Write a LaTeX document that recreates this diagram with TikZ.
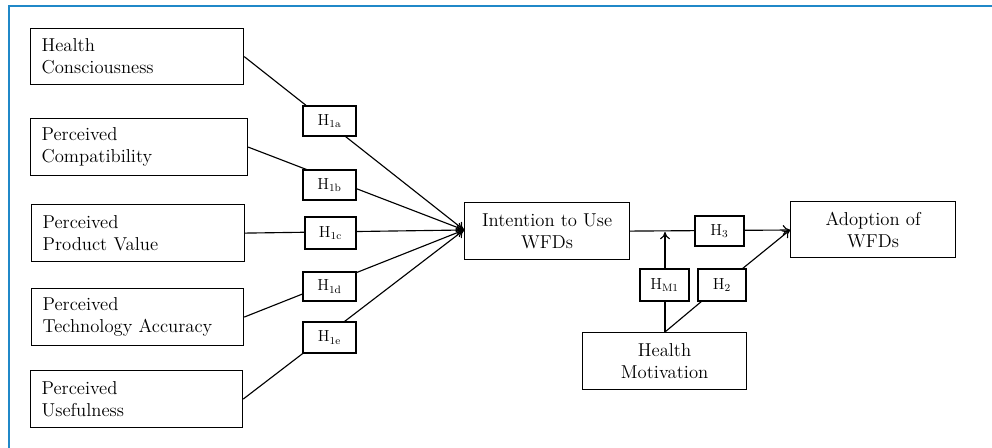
\documentclass[tikz,border=0pt]{standalone}
\usetikzlibrary{arrows.meta}
\definecolor{frameblue}{RGB}{32,136,200}
\tikzset{
  var/.style={draw, line width=0.9pt, fill=white, align=left, inner sep=0pt, font=\fontsize{14}{16.5}\selectfont},
  cvar/.style={draw, line width=0.9pt, fill=white, align=center, inner sep=0pt, font=\fontsize{14}{16.5}\selectfont},
  hbox/.style={draw, line width=0.9pt, fill=white, inner sep=0pt, font=\fontsize{12}{14}\selectfont},
  conn/.style={line width=0.85pt},
  arr/.style={line width=0.85pt, -{To[length=5.5pt,width=7.5pt]}}
}
\begin{document}
\begin{tikzpicture}[x=0.75pt,y=-0.75pt]
\useasboundingbox (0,0) rectangle (992,448);
\draw[frameblue, line width=2pt] (9,448) -- (9,6) -- (992,6);
% source boxes
\node[var, minimum width=213*0.75pt, minimum height=56*0.75pt, anchor=north west, text width=191*0.75pt] (hc) at (30,28) {Health\\Consciousness};
\node[var, minimum width=217*0.75pt, minimum height=57*0.75pt, anchor=north west, text width=195*0.75pt] (pc) at (30,118) {Perceived\\Compatibility};
\node[var, minimum width=213*0.75pt, minimum height=57*0.75pt, anchor=north west, text width=191*0.75pt] (pv) at (31,204) {Perceived\\Product Value};
\node[var, minimum width=212*0.75pt, minimum height=57*0.75pt, anchor=north west, text width=190*0.75pt] (pt) at (31,288) {Perceived\\Technology Accuracy};
\node[var, minimum width=212*0.75pt, minimum height=57*0.75pt, anchor=north west, text width=190*0.75pt] (pu) at (30,370) {Perceived\\Usefulness};
% targets
\node[cvar, minimum width=165*0.75pt, minimum height=57*0.75pt, anchor=north west] (iu) at (464,202) {Intention to Use\\WFDs};
\node[cvar, minimum width=165*0.75pt, minimum height=56*0.75pt, anchor=north west] (ad) at (790,201) {Adoption of\\WFDs};
\node[cvar, minimum width=164*0.75pt, minimum height=57*0.75pt, anchor=north west] (hm) at (582,332) {Health\\Motivation};
\coordinate (tip) at (464,230);
\coordinate (adin) at (790,230);
\coordinate (hmtop) at (665,332);
\coordinate (mtip) at (665,232);
\coordinate (h2bl) at (702,301);
\coordinate (h2tr) at (742,269);
% connectors
\draw[arr] (hc.east) -- (tip);
\draw[arr] (pc.east) -- (tip);
\draw[arr] (pv.east) -- (tip);
\draw[arr] (pt.east) -- (tip);
\draw[arr] (pu.east) -- (tip);
\draw[arr] (iu.east) -- (adin);
\draw[arr] (hmtop) -- (mtip);
\draw[conn] (hmtop) -- (h2bl);
\draw[arr] (h2tr) -- (adin);
% hypothesis boxes
\node[hbox, minimum width=53*0.75pt, minimum height=30*0.75pt] (h1a) at (329.5,121) {H\textsubscript{1a}};
\node[hbox, minimum width=53*0.75pt, minimum height=30*0.75pt] (h1b) at (329.5,185) {H\textsubscript{1b}};
\node[hbox, minimum width=51*0.75pt, minimum height=32*0.75pt] (h1c) at (330.5,233) {H\textsubscript{1c}};
\node[hbox, minimum width=53*0.75pt, minimum height=29*0.75pt] (h1d) at (329.5,286.5) {H\textsubscript{1d}};
\node[hbox, minimum width=53*0.75pt, minimum height=31*0.75pt] (h1e) at (329.5,337.5) {H\textsubscript{1e}};
\node[hbox, minimum width=49*0.75pt, minimum height=30*0.75pt] (h3) at (719.5,231) {H\textsubscript{3}};
\node[hbox, minimum width=49*0.75pt, minimum height=32*0.75pt] (hm1) at (664.5,285) {H\textsubscript{M1}};
\node[hbox, minimum width=48*0.75pt, minimum height=32*0.75pt] (h2) at (722,285) {H\textsubscript{2}};
\end{tikzpicture}
\end{document}
